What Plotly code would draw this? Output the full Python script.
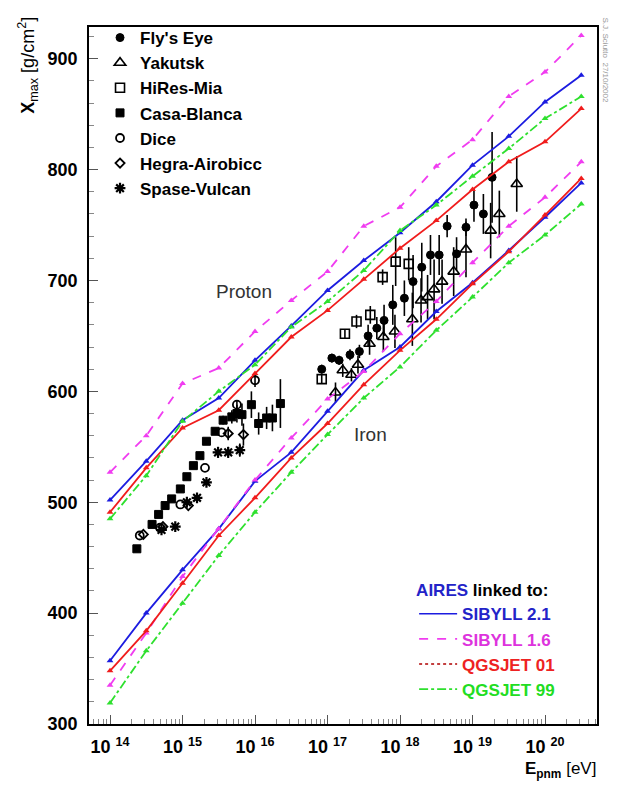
import math
import plotly.graph_objects as go

FONT = "Liberation Sans"

# ---------------- model predictions (AIRES), x = log10(E/eV) ----------------
log_e_model = [14.0, 14.5, 15.0, 15.5, 16.0, 16.5, 17.0, 17.5, 18.0, 18.5, 19.0, 19.5, 20.0, 20.5]

sib21_p = [502, 537, 574, 594, 628, 659, 691, 718, 743, 771, 804, 830, 861, 885]
sib16_p = [527, 560, 607, 621, 654, 682, 708, 749, 766, 803, 827, 866, 888, 921]
qgs01_p = [491, 531, 567, 583, 616, 649, 673, 701, 729, 754, 782, 807, 825, 855]
qgs99_p = [485, 524, 573, 600, 624, 658, 681, 709, 745, 768, 794, 819, 846, 866]

sib21_fe = [357, 400, 439, 476, 519, 545, 582, 619, 640, 672, 698, 727, 757, 788]
sib16_fe = [335, 382, 433, 476, 520, 558, 593, 618, 652, 681, 716, 749, 775, 807]
qgs01_fe = [348, 384, 427, 470, 504, 540, 571, 606, 637, 665, 697, 726, 759, 792]
qgs99_fe = [319, 366, 409, 452, 491, 527, 561, 594, 622, 655, 685, 716, 741, 769]

# ---------------- experimental data ----------------
fly_loge = [16.92, 17.06, 17.16, 17.31, 17.44, 17.56, 17.68, 17.78, 17.90, 18.06,
            18.18, 18.30, 18.42, 18.54, 18.65, 18.78, 18.91, 19.02, 19.15, 19.27]
fly_x = [620, 630, 628, 633, 636, 650, 657, 664, 678, 684,
         699, 712, 723, 723, 749, 724, 748, 768, 760, 793]
fly_err = [4, 4, 4, 5, 6, 10, 10, 14, 18, 16,
           24, 22, 18, 18, 10, 15, 8, 15, 18, 41]

yak_loge = [17.11, 17.21, 17.33, 17.42, 17.58, 17.77, 17.93, 18.17, 18.29,
            18.38, 18.47, 18.58, 18.74, 18.91, 19.25, 19.37, 19.61]
yak_x = [599, 619, 615, 624, 643, 649, 654, 665, 682,
         685, 692, 699, 708, 728, 745, 760, 787]
yak_err = [9, 6, 6, 8, 10, 13, 15, 24, 20,
           20, 27, 20, 22, 25, 25, 21, 25]

hires_loge = [16.92, 17.24, 17.40, 17.59, 17.76, 17.94, 18.12]
hires_x = [611, 652, 663, 669, 703, 717, 715]
hires_err = [4, 4, 6, 8, 7, 22, 15]

casa_loge = [14.37, 14.58, 14.67, 14.76, 14.85, 14.97, 15.06, 15.15, 15.24, 15.33,
             15.45, 15.56, 15.68, 15.75, 15.82, 15.95, 16.05, 16.16, 16.24, 16.35]
casa_x = [458, 480, 489, 497, 503, 512, 523, 533, 542, 555,
          564, 574, 577, 580, 579, 588, 571, 576, 576, 589]
casa_err = [0, 0, 0, 0, 0, 0, 0, 0, 0, 0,
            0, 4, 6, 8, 10, 12, 10, 10, 12, 22]

dice_loge = [14.41, 14.69, 14.97, 15.31, 15.54, 15.75, 16.00]
dice_x = [470, 477, 498, 531, 563, 588, 610]
dice_err = [0, 0, 0, 0, 0, 4, 6]

hegra_loge = [14.46, 14.73, 15.08, 15.63, 15.84]
hegra_x = [471, 478, 497, 562, 561]
hegra_err = [0, 0, 0, 6, 10]

spase_loge = [14.71, 14.90, 15.06, 15.20, 15.33, 15.49, 15.63, 15.79]
spase_x = [475, 478, 500, 504, 518, 545, 545, 547]
spase_err = [0, 0, 0, 0, 0, 5, 5, 6]

x_tick_exp = [14, 15, 16, 17, 18, 19, 20]
y_ticks = [300, 400, 500, 600, 700, 800, 900]

# ---------------- styles ----------------
BLUE = "#1c1ce0"
MAGENTA = "#f03cf0"
RED = "#f01c1c"
GREEN = "#2ee02e"

fig = go.Figure()

exp_sets = [
    ("Fly's Eye", fly_loge, fly_x, fly_err, "circle", 8, 1),
    ("Yakutsk", yak_loge, yak_x, yak_err, "triangle-up-open", 10, 1.6),
    ("HiRes-Mia", hires_loge, hires_x, hires_err, "square-open", 9, 1.6),
    ("Casa-Blanca", casa_loge, casa_x, casa_err, "square", 8, 1),
    ("Dice", dice_loge, dice_x, dice_err, "circle-open", 8, 1.8),
    ("Hegra-Airobicc", hegra_loge, hegra_x, hegra_err, "diamond-open", 7, 1.8),
    ("Spase-Vulcan", spase_loge, spase_x, spase_err, "asterisk-open", 9, 2.2),
]
for name, le, xm, err, sym, size, lw in exp_sets:
    fig.add_trace(go.Scatter(
        x=le, y=xm, mode="markers", name=name, legend="legend",
        marker=dict(symbol=sym, size=size, color="black",
                    line=dict(color="black", width=lw)),
        error_y=dict(type="data", array=err, visible=True, width=0,
                     thickness=1.6, color="black"),
    ))

model_styles = [
    (sib21_p, sib21_fe, BLUE, "solid"),
    (sib16_p, sib16_fe, MAGENTA, "dash"),
    (qgs01_p, qgs01_fe, RED, "solid"),
    (qgs99_p, qgs99_fe, GREEN, "dashdot"),
]
for yp, yfe, col, dash in model_styles:
    for yy in (yp, yfe):
        fig.add_trace(go.Scatter(
            x=log_e_model, y=yy, mode="lines+markers", showlegend=False,
            line=dict(color=col, width=1.8, dash=dash),
            marker=dict(symbol="triangle-up", size=6, color=col),
        ))

leg2 = [
    ("SIBYLL 2.1", BLUE, "solid", "#2323c8"),
    ("SIBYLL 1.6", MAGENTA, "dash", "#dd33dd"),
    ("QGSJET 01", "#b00000", "dot", "#ee2222"),
    ("QGSJET 99", GREEN, "dashdot", "#22dd22"),
]
for name, col, dash, tcol in leg2:
    fig.add_trace(go.Scatter(
        x=[None], y=[None], mode="lines", legend="legend2",
        name=f"<span style='color:{tcol}'>{name}</span>",
        line=dict(color=col, width=1.6, dash=dash),
    ))

minor_x = [n + math.log10(k) for n in range(13, 21) for k in range(2, 10)]

fig.update_layout(
    width=615, height=777,
    margin=dict(l=81, r=26, t=12, b=61),
    paper_bgcolor="white", plot_bgcolor="white",
    font=dict(family=FONT, color="black"),
    xaxis=dict(
        range=[13.71, 20.717],
        tickmode="array",
        tickvals=x_tick_exp,
        ticktext=[f"10 <sup>{e}</sup>" for e in x_tick_exp],
        ticks="inside", ticklen=9, tickwidth=1, tickcolor="#555",
        tickfont=dict(size=18, family=FONT, weight="bold"),
        ticklabelstandoff=6,
        showline=True, linecolor="black", linewidth=1.5, mirror=True,
        showgrid=False, zeroline=False,
        minor=dict(tickmode="array", tickvals=minor_x, ticks="inside", ticklen=5,
                   tickcolor="#888", showgrid=False),
    ),
    yaxis=dict(
        range=[300, 928.6],
        tickmode="array",
        tickvals=y_ticks,
        ticks="inside", ticklen=9, tickwidth=1, tickcolor="#555",
        tickfont=dict(size=18, family=FONT, weight="bold"),
        ticklabelstandoff=6,
        showline=True, linecolor="black", linewidth=1.5, mirror=True,
        showgrid=False, zeroline=False,
        minor=dict(dtick=20, ticks="inside", ticklen=5, tickcolor="#888",
                   showgrid=False),
    ),
    legend=dict(
        x=0.0217, y=1.01, xanchor="left", yanchor="top",
        bgcolor="rgba(0,0,0,0)", borderwidth=0,
        font=dict(size=17, family=FONT, weight="bold", color="black"),
        itemwidth=30, tracegroupgap=0,
    ),
    legend2=dict(
        x=0.640, y=0.2150, xanchor="left", yanchor="top",
        bgcolor="rgba(0,0,0,0)", borderwidth=0,
        font=dict(size=17, family=FONT, weight="bold"),
        title=dict(text="<span style='color:#2323c8'>AIRES</span> linked to:",
                   font=dict(size=17, family=FONT, weight="bold", color="black")),
        itemwidth=38, tracegroupgap=0,
    ),
    annotations=[
        dict(x=15.85, y=690, xref="x", yref="y", text="Proton", showarrow=False,
             font=dict(size=19, family=FONT, color="#333")),
        dict(x=17.59, y=561, xref="x", yref="y", text="Iron", showarrow=False,
             font=dict(size=19, family=FONT, color="#333")),
        dict(x=-0.12, y=1.017, xref="paper", yref="paper", yanchor="top",
             xanchor="center", textangle=-90, showarrow=False,
             text="<b>X</b><sub>max</sub> [g/cm<sup>2</sup>]",
             font=dict(size=18, family=FONT, color="black")),
        dict(x=1.002, y=-0.0653, xref="paper", yref="paper", xanchor="right",
             yanchor="middle", showarrow=False,
             text="<b>E</b><sub><b>pnm</b></sub> [eV]",
             font=dict(size=17, family=FONT, color="black")),
        dict(x=1.016, y=1.017, xref="paper", yref="paper", xanchor="center",
             yanchor="top", textangle=90, showarrow=False,
             text="S.J. Sciutto  27/10/2002",
             font=dict(size=8, family=FONT, color="#999")),
    ],
)

fig.write_html("out.html")
